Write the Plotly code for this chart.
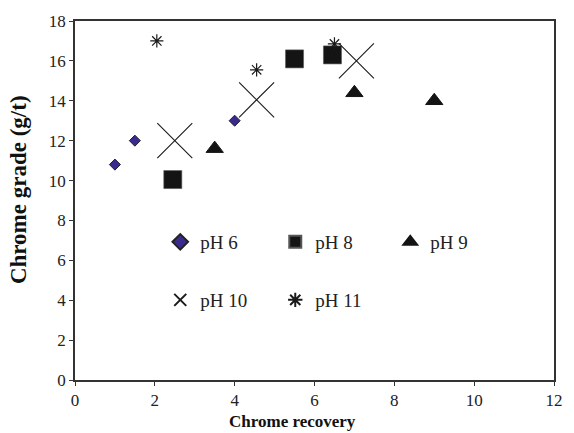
import plotly.graph_objects as go

# Flotation results: chrome recovery vs chrome grade at different pH
ph6_recovery = [1.0, 1.5, 4.0]
ph6_grade = [10.8, 12.0, 13.0]

ph8_recovery = [2.45, 5.5, 6.45]
ph8_grade = [10.05, 16.1, 16.3]

ph9_recovery = [3.5, 7.0, 9.0]
ph9_grade = [11.6, 14.4, 14.0]

ph10_recovery = [2.5, 4.55, 7.05]
ph10_grade = [12.0, 14.05, 16.0]

ph11_recovery = [2.05, 4.55, 6.5]
ph11_grade = [17.0, 15.55, 16.85]

x_ticks = [0, 2, 4, 6, 8, 10, 12]
y_ticks = [0, 2, 4, 6, 8, 10, 12, 14, 16, 18]

SERIF = "Liberation Serif, Times New Roman, serif"
INK = "#1a1a1a"

fig = go.Figure()

fig.add_trace(go.Scatter(
    x=ph6_recovery, y=ph6_grade, mode="markers", name="pH 6", legend="legend",
    marker=dict(symbol="diamond", size=8.5, color="#3b2a8e",
                line=dict(color="#222222", width=1)),
))
fig.add_trace(go.Scatter(
    x=ph8_recovery, y=ph8_grade, mode="markers", name="pH 8", legend="legend",
    marker=dict(symbol="square", size=18, color="#141414",
                line=dict(color="#555555", width=0.6)),
))
fig.add_trace(go.Scatter(
    x=ph9_recovery, y=ph9_grade, mode="markers", name="pH 9", legend="legend",
    marker=dict(symbol="triangle-up", size=15, color="#141414",
                line=dict(color="#141414", width=1)),
))
fig.add_trace(go.Scatter(
    x=ph10_recovery, y=ph10_grade, mode="markers", name="pH 10", legend="legend2",
    marker=dict(symbol="x-thin-open", size=35, color=INK,
                line=dict(color=INK, width=1.1)),
))
fig.add_trace(go.Scatter(
    x=ph11_recovery, y=ph11_grade, mode="markers", name="pH 11", legend="legend2",
    marker=dict(symbol="asterisk-open", size=11, color=INK,
                line=dict(color=INK, width=1.2)),
))

axis_common = dict(
    showgrid=False, zeroline=False,
    showline=True, linecolor="#333333", linewidth=1.5, mirror=True,
    ticks="outside", ticklen=4, tickcolor="#333333", tickwidth=1,
    tickfont=dict(family=SERIF, size=17, color="#222222"),
)

fig.update_xaxes(range=[0, 12], tickvals=x_ticks, **axis_common)
fig.update_yaxes(range=[0, 18], tickvals=y_ticks, **axis_common)

PLOT_TOP, PLOT_BOTTOM = 21, 380
PLOT_H = PLOT_BOTTOM - PLOT_TOP

legend_common = dict(
    orientation="h", xref="paper", yref="paper",
    xanchor="left", yanchor="middle", itemsizing="constant",
    entrywidth=70, bgcolor="rgba(0,0,0,0)",
    font=dict(family=SERIF, size=19, color="#222222"),
)

fig.update_layout(
    width=574, height=433,
    margin=dict(l=75, r=11, t=PLOT_TOP, b=433 - PLOT_BOTTOM),
    paper_bgcolor="white", plot_bgcolor="white",
    showlegend=True,
    legend=dict(x=0.178, y=1 - (242 - PLOT_TOP) / PLOT_H, **legend_common),
    legend2=dict(x=0.178, y=1 - (300 - PLOT_TOP) / PLOT_H, **legend_common),
    annotations=[
        dict(text="<b>Chrome recovery</b>", xref="paper", yref="paper",
             x=(296.5 - 75) / 488, y=(PLOT_BOTTOM - 433) / PLOT_H,
             xanchor="center", yanchor="bottom", showarrow=False,
             font=dict(family=SERIF, size=17, color="#111111")),
        dict(text="<b>Chrome grade (g/t)</b>", xref="paper", yref="paper",
             x=(17 - 75) / 488, y=(PLOT_BOTTOM - 190) / PLOT_H, textangle=-90,
             xanchor="center", yanchor="middle", showarrow=False,
             font=dict(family=SERIF, size=23, color="#111111")),
    ],
)

fig.write_html("out.html")
